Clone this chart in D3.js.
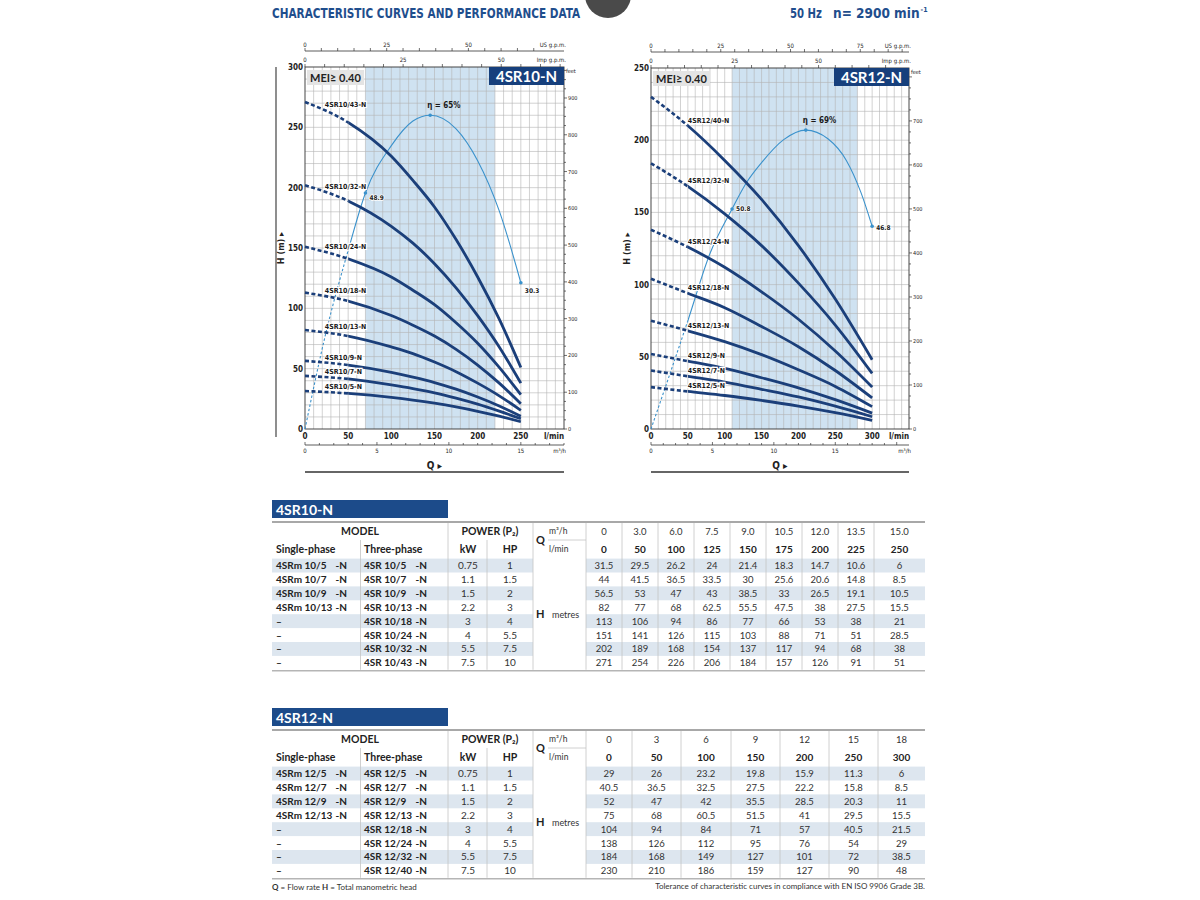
<!DOCTYPE html>
<html>
<head>
<meta charset="utf-8">
<script src="https://cdn.jsdelivr.net/npm/d3@7"></script>
<style>
  body { margin: 0; background: #fff; }
  svg { display: block; }
</style>
</head>
<body>
<div id="chart"></div>
<script>
// ---- 4SR10-N data ----
const q10 = [0, 50, 100, 125, 150, 175, 200, 225, 250];
const m3h10 = ['0', '3.0', '6.0', '7.5', '9.0', '10.5', '12.0', '13.5', '15.0'];
const models10 = ['4SR10/5-N', '4SR10/7-N', '4SR10/9-N', '4SR10/13-N', '4SR10/18-N', '4SR10/24-N', '4SR10/32-N', '4SR10/43-N'];
const single10 = ['4SRm 10/5', '4SRm 10/7', '4SRm 10/9', '4SRm 10/13', '–', '–', '–', '–'];
const three10 = ['4SR 10/5', '4SR 10/7', '4SR 10/9', '4SR 10/13', '4SR 10/18', '4SR 10/24', '4SR 10/32', '4SR 10/43'];
const kw10 = ['0.75', '1.1', '1.5', '2.2', '3', '4', '5.5', '7.5'];
const hp10 = ['1', '1.5', '2', '3', '4', '5.5', '7.5', '10'];
const head10 = [
    [31.5, 29.5, 26.2, 24, 21.4, 18.3, 14.7, 10.6, 6],
    [44, 41.5, 36.5, 33.5, 30, 25.6, 20.6, 14.8, 8.5],
    [56.5, 53, 47, 43, 38.5, 33, 26.5, 19.1, 10.5],
    [82, 77, 68, 62.5, 55.5, 47.5, 38, 27.5, 15.5],
    [113, 106, 94, 86, 77, 66, 53, 38, 21],
    [151, 141, 126, 115, 103, 88, 71, 51, 28.5],
    [202, 189, 168, 154, 137, 117, 94, 68, 38],
    [271, 254, 226, 206, 184, 157, 126, 91, 51]
];
const etaQ10 = [0, 25, 50, 70, 100, 125, 145, 175, 200, 225, 250];
const eta10 = [0, 20.5, 37, 48.9, 58.7, 63.8, 65, 62.2, 55.6, 45.2, 30.3];
const etaMarkQ10 = [70, 145, 250];
const etaMark10 = [48.9, 65, 30.3];
const range10 = [70, 220];

// ---- 4SR12-N data ----
const q12 = [0, 50, 100, 150, 200, 250, 300];
const m3h12 = ['0', '3', '6', '9', '12', '15', '18'];
const models12 = ['4SR12/5-N', '4SR12/7-N', '4SR12/9-N', '4SR12/13-N', '4SR12/18-N', '4SR12/24-N', '4SR12/32-N', '4SR12/40-N'];
const single12 = ['4SRm 12/5', '4SRm 12/7', '4SRm 12/9', '4SRm 12/13', '–', '–', '–', '–'];
const three12 = ['4SR 12/5', '4SR 12/7', '4SR 12/9', '4SR 12/13', '4SR 12/18', '4SR 12/24', '4SR 12/32', '4SR 12/40'];
const kw12 = ['0.75', '1.1', '1.5', '2.2', '3', '4', '5.5', '7.5'];
const hp12 = ['1', '1.5', '2', '3', '4', '5.5', '7.5', '10'];
const head12 = [
    [29, 26, 23.2, 19.8, 15.9, 11.3, 6],
    [40.5, 36.5, 32.5, 27.5, 22.2, 15.8, 8.5],
    [52, 47, 42, 35.5, 28.5, 20.3, 11],
    [75, 68, 60.5, 51.5, 41, 29.5, 15.5],
    [104, 94, 84, 71, 57, 40.5, 21.5],
    [138, 126, 112, 95, 76, 54, 29],
    [184, 168, 149, 127, 101, 72, 38.5],
    [230, 210, 186, 159, 127, 90, 48]
];
const etaQ12 = [0, 50, 80, 110, 130, 150, 180, 210, 240, 265, 285, 300];
const eta12 = [0, 25, 40.5, 50.8, 57, 61.5, 66.8, 69, 67, 62, 54.5, 46.8];
const etaMarkQ12 = [110, 210, 300];
const etaMark12 = [50.8, 69, 46.8];
const range12 = [110, 280];

const NAVY = '#1b3f7a';
const TITLE = '#1f4e8d';
const ETA = '#3b92cc';
const COND = '"Liberation Sans Narrow", "DejaVu Sans Condensed", "Arial Narrow", sans-serif';
const SANS = 'Lato, "Open Sans", sans-serif';

const svg = d3.select('#chart').append('svg')
    .attr('width', 1200)
    .attr('height', 900);
const defs = svg.append('defs');

// ---- page header ----
svg.append('circle')
    .attr('cx', 608).attr('cy', -5).attr('r', 23)
    .attr('fill', '#4a4a4a');

svg.append('text')
    .attr('x', 272).attr('y', 18)
    .attr('font-family', COND).attr('font-weight', 'bold').attr('font-size', 14)
    .attr('fill', TITLE)
    .attr('textLength', 308).attr('lengthAdjust', 'spacingAndGlyphs')
    .text('CHARACTERISTIC CURVES AND PERFORMANCE DATA');
svg.append('text')
    .attr('x', 790).attr('y', 18)
    .attr('font-family', COND).attr('font-weight', 'bold').attr('font-size', 14)
    .attr('fill', TITLE)
    .attr('textLength', 32).attr('lengthAdjust', 'spacingAndGlyphs')
    .text('50 Hz');
const nTxt = svg.append('text')
    .attr('x', 833).attr('y', 18)
    .attr('font-family', COND).attr('font-weight', 'bold').attr('font-size', 13.5)
    .attr('fill', TITLE);
nTxt.append('tspan').text('n= 2900 min');
nTxt.append('tspan').attr('font-size', 7).attr('dx', 1).attr('dy', -6).text('-1');

function txt(g, x, y, s, size, opts = {}) {
    return g.append('text')
        .attr('x', x).attr('y', y)
        .attr('font-family', opts.family || COND)
        .attr('font-size', size)
        .attr('font-weight', opts.weight || 'normal')
        .attr('text-anchor', opts.anchor || 'start')
        .attr('fill', opts.fill || '#222')
        .text(s);
}

function drawChart(cfg) {
    const g = svg.append('g');
    const x = d3.scaleLinear().domain([0, cfg.qMax]).range([cfg.left, cfg.right]);
    const y = d3.scaleLinear().domain([0, cfg.hMax]).range([cfg.bottom, cfg.top]);
    const yEta = d3.scaleLinear().domain([0, cfg.etaMax]).range([cfg.bottom, cfg.top]);
    const yFeet = d3.scaleLinear().domain([0, cfg.hMax * 3.28084]).range([cfg.bottom, cfg.top]);

    // best-efficiency band
    g.append('rect')
        .attr('x', x(cfg.band[0])).attr('y', cfg.top)
        .attr('width', x(cfg.band[1]) - x(cfg.band[0]))
        .attr('height', cfg.bottom - cfg.top)
        .attr('fill', '#cfe2f1');

    // grid every 10
    d3.range(10, cfg.qMax, 10).forEach(v => {
        g.append('line')
            .attr('x1', x(v)).attr('x2', x(v))
            .attr('y1', cfg.top).attr('y2', cfg.bottom)
            .attr('stroke', '#b3b3b3').attr('stroke-width', 0.6);
    });
    d3.range(10, cfg.hMax, 10).forEach(v => {
        g.append('line')
            .attr('x1', cfg.left).attr('x2', cfg.right)
            .attr('y1', y(v)).attr('y2', y(v))
            .attr('stroke', '#b3b3b3').attr('stroke-width', 0.6);
    });

    // frame
    g.append('rect')
        .attr('x', cfg.left).attr('y', cfg.top)
        .attr('width', cfg.right - cfg.left).attr('height', cfg.bottom - cfg.top)
        .attr('fill', 'none').attr('stroke', '#333').attr('stroke-width', 0.9);

    if (cfg.outerLine) {
        g.append('line')
            .attr('x1', cfg.outerLine).attr('x2', cfg.outerLine)
            .attr('y1', cfg.top).attr('y2', cfg.bottom + 8)
            .attr('stroke', '#444').attr('stroke-width', 1.2);
    }

    // left H axis labels
    d3.range(0, cfg.hMax + 1, 50).forEach(v => {
        txt(g, cfg.left - 2, y(v) + 3, v, 8, { weight: 'bold', anchor: 'end' });
    });
    txt(g, 0, 0, 'H  (m)  ▸', 9, { weight: 'bold', anchor: 'middle' })
        .attr('transform', `translate(${cfg.left - 21},${(cfg.top + cfg.bottom) / 2}) rotate(-90)`);

    // right feet axis
    const feetMax = cfg.hMax * 3.28084;
    d3.range(0, feetMax, 25).forEach(v => {
        const major = v % 100 === 0;
        g.append('line')
            .attr('x1', cfg.right).attr('x2', cfg.right + (major ? 3 : 2))
            .attr('y1', yFeet(v)).attr('y2', yFeet(v))
            .attr('stroke', '#333').attr('stroke-width', 0.7);
        if (major && yFeet(v) > cfg.top + 12) {
            txt(g, cfg.right + 4, yFeet(v) + 2, v, 5.5);
        }
    });
    txt(g, cfg.right + 2, cfg.top + 6, 'feet', 5.5);

    // bottom l/min labels
    d3.range(0, cfg.qEnd + 1, 50).forEach(v => {
        txt(g, x(v), cfg.bottom + 10, v, 8, { weight: 'bold', anchor: 'middle' });
    });
    txt(g, x(cfg.qMax) - 10, cfg.bottom + 10, 'l/min', 8, { weight: 'bold', anchor: 'middle' });

    // m3/h axis
    const xm3 = d3.scaleLinear().domain([0, cfg.qMax * 60 / 1000]).range([cfg.left, cfg.right]);
    const axY = cfg.bottom + 16;
    g.append('line')
        .attr('x1', cfg.left).attr('x2', cfg.right)
        .attr('y1', axY).attr('y2', axY)
        .attr('stroke', '#333').attr('stroke-width', 0.8);
    d3.range(0, cfg.m3Ticks + 1, 1).forEach(v => {
        g.append('line')
            .attr('x1', xm3(v)).attr('x2', xm3(v))
            .attr('y1', axY - (v % 5 === 0 ? 3 : 2)).attr('y2', axY)
            .attr('stroke', '#333').attr('stroke-width', 0.7);
    });
    [0, 5, 10, 15].forEach(v => txt(g, xm3(v), axY + 8, v, 6, { anchor: 'middle' }));
    txt(g, cfg.right + 2, axY + 8, 'm³/h', 6, { anchor: 'end' });

    txt(g, (cfg.left + cfg.right) / 2, cfg.bottom + 40, 'Q ▸', 10, { weight: 'bold', anchor: 'middle' });
    g.append('line')
        .attr('x1', cfg.left).attr('x2', cfg.right)
        .attr('y1', cfg.bottom + 43).attr('y2', cfg.bottom + 43)
        .attr('stroke', '#333').attr('stroke-width', 1.3);

    // top gallon axes
    const xus = d3.scaleLinear().domain([0, cfg.qMax / 3.78541]).range([cfg.left, cfg.right]);
    const ximp = d3.scaleLinear().domain([0, cfg.qMax / 4.54609]).range([cfg.left, cfg.right]);
    const usY = cfg.top - 16;
    g.append('line')
        .attr('x1', cfg.left).attr('x2', cfg.right)
        .attr('y1', usY).attr('y2', usY)
        .attr('stroke', '#333').attr('stroke-width', 0.8);
    d3.range(0, cfg.usTicks + 1, 5).forEach(v => {
        g.append('line')
            .attr('x1', xus(v)).attr('x2', xus(v))
            .attr('y1', usY - 3).attr('y2', usY)
            .attr('stroke', '#333').attr('stroke-width', 0.7);
    });
    cfg.usLabels.forEach(v => txt(g, xus(v), usY - 4, v, 6, { anchor: 'middle' }));
    txt(g, cfg.right + 2, usY - 4, 'US g.p.m.', 6, { anchor: 'end' });

    d3.range(0, cfg.impTicks + 1, 5).forEach(v => {
        g.append('line')
            .attr('x1', ximp(v)).attr('x2', ximp(v))
            .attr('y1', cfg.top - 3).attr('y2', cfg.top)
            .attr('stroke', '#333').attr('stroke-width', 0.7);
    });
    [0, 25, 50].forEach(v => txt(g, ximp(v), cfg.top - 5, v, 6, { anchor: 'middle' }));
    txt(g, cfg.right + 2, cfg.top - 5, 'Imp g.p.m.', 6, { anchor: 'end' });

    // clip zones: dashed up to 50 l/min, solid beyond
    defs.append('clipPath').attr('id', cfg.id + '-dash')
        .append('rect')
        .attr('x', cfg.left - 5).attr('y', cfg.top - 20)
        .attr('width', x(50) - cfg.left + 5).attr('height', cfg.bottom - cfg.top + 40);
    defs.append('clipPath').attr('id', cfg.id + '-solid')
        .append('rect')
        .attr('x', x(50)).attr('y', cfg.top - 20)
        .attr('width', cfg.right - x(50)).attr('height', cfg.bottom - cfg.top + 40);

    const line = d3.line()
        .x(d => x(d[0]))
        .y(d => d[2](d[1]))
        .curve(d3.curveMonotoneX);

    // efficiency curve
    const etaPts = cfg.etaQ.map((q, i) => [q, cfg.eta[i], yEta]);
    g.append('path')
        .attr('d', line(etaPts))
        .attr('fill', 'none').attr('stroke', ETA).attr('stroke-width', 1.1)
        .attr('stroke-dasharray', '2.5,2')
        .attr('clip-path', `url(#${cfg.id}-dash)`);
    g.append('path')
        .attr('d', line(etaPts))
        .attr('fill', 'none').attr('stroke', ETA).attr('stroke-width', 1.1)
        .attr('clip-path', `url(#${cfg.id}-solid)`);

    // pump curves
    cfg.heads.forEach(row => {
        const pts = cfg.q.map((q, i) => [q, row[i], y]);
        g.append('path')
            .attr('d', line(pts))
            .attr('fill', 'none').attr('stroke', NAVY).attr('stroke-width', 2.6)
            .attr('stroke-dasharray', '4,2.5')
            .attr('clip-path', `url(#${cfg.id}-dash)`);
        g.append('path')
            .attr('d', line(pts))
            .attr('fill', 'none').attr('stroke', NAVY).attr('stroke-width', 2.8)
            .attr('clip-path', `url(#${cfg.id}-solid)`);
    });

    // curve labels
    cfg.heads.forEach((row, i) => {
        const h = row[0] + (row[1] - row[0]) * cfg.labelQ / 50;
        txt(g, x(cfg.labelX), y(h) - 3, cfg.models[i], 7, { weight: 'bold', fill: '#1a1a1a' })
            .attr('stroke', '#fff').attr('stroke-width', 2.2)
            .attr('paint-order', 'stroke');
    });

    // efficiency marks
    cfg.etaMarkQ.forEach((q, i) => {
        const v = cfg.etaMark[i];
        g.append('circle')
            .attr('cx', x(q)).attr('cy', yEta(v)).attr('r', 1.8)
            .attr('fill', ETA);
        if (i === 1) {
            txt(g, x(q) - 3, yEta(v) - 7, `η = ${v}%`, 8, { weight: 'bold', fill: '#1a1a1a' });
        } else {
            txt(g, x(q) + 4, yEta(v) + cfg.markDy[i], v, 6.5, { weight: 'bold', fill: '#1a1a1a' })
                .attr('stroke', '#fff').attr('stroke-width', 1.5).attr('paint-order', 'stroke');
        }
    });

    // MEI box
    g.append('rect')
        .attr('x', cfg.left + 2).attr('y', cfg.top + 3)
        .attr('width', 57).attr('height', 15)
        .attr('fill', '#e4e4e4');
    txt(g, cfg.left + 5, cfg.top + 14.5, 'MEI≥ 0.40', 11, { weight: 'bold', family: SANS, fill: '#222' });

    // model box
    g.append('rect')
        .attr('x', cfg.right - 75).attr('y', cfg.top)
        .attr('width', 75).attr('height', 18)
        .attr('fill', '#163f7c');
    txt(g, cfg.right - 37.5, cfg.top + 15, cfg.title, 15, { weight: 'bold', family: SANS, anchor: 'middle', fill: '#fff' });
}

drawChart({
    id: 'c10', title: '4SR10-N',
    left: 305, right: 564, top: 67, bottom: 429,
    qMax: 300, hMax: 300, etaMax: 75, qEnd: 250,
    m3Ticks: 18, usTicks: 70, impTicks: 65, usLabels: [0, 25, 50],
    band: range10, q: q10, heads: head10, models: models10,
    labelQ: 20, labelX: 23,
    etaQ: etaQ10, eta: eta10, etaMarkQ: etaMarkQ10, etaMark: etaMark10, markDy: [7, 0, 10],
    outerLine: 276
});
drawChart({
    id: 'c12', title: '4SR12-N',
    left: 651, right: 909, top: 68, bottom: 429,
    qMax: 350, hMax: 250, etaMax: 250 / 3, qEnd: 300,
    m3Ticks: 20, usTicks: 90, impTicks: 70, usLabels: [0, 25, 50, 75],
    band: range12, q: q12, heads: head12, models: models12,
    labelQ: 50, labelX: 50,
    etaQ: etaQ12, eta: eta12, etaMarkQ: etaMarkQ12, etaMark: etaMark12, markDy: [2, 0, 4],
    outerLine: null
});

// ---- tables ----
function drawTable(cfg) {
    const g = svg.append('g');
    const t = cfg.top;
    const L = 272, R = 925;
    const lineTop = t + 22, h1 = t + 31, h2 = t + 49, dTop = t + 58.6, rh = 13.9;
    const edges = cfg.edges;

    g.append('rect')
        .attr('x', L).attr('y', t).attr('width', 176).attr('height', 18)
        .attr('fill', '#1c4b8a');
    txt(g, L + 4, t + 14.5, cfg.title, 14, { weight: 'bold', family: SANS, fill: '#fff' });

    // row shading
    for (let r = 0; r < 8; r += 2) {
        g.append('rect')
            .attr('x', L).attr('y', dTop + r * rh)
            .attr('width', 533 - L).attr('height', rh)
            .attr('fill', '#dde6ef');
        g.append('rect')
            .attr('x', 586).attr('y', dTop + r * rh)
            .attr('width', R - 586).attr('height', rh)
            .attr('fill', '#dde6ef');
    }

    // lines
    g.append('line').attr('x1', L).attr('x2', R).attr('y1', lineTop).attr('y2', lineTop)
        .attr('stroke', '#a8a8a8').attr('stroke-width', 2);
    g.append('line').attr('x1', L).attr('x2', R).attr('y1', dTop + 8 * rh + 1).attr('y2', dTop + 8 * rh + 1)
        .attr('stroke', '#b5b5b5').attr('stroke-width', 1.5);
    const vline = (xx, y1, y2, c) => g.append('line')
        .attr('x1', xx).attr('x2', xx).attr('y1', y1).attr('y2', y2)
        .attr('stroke', c).attr('stroke-width', 0.8);
    vline(360.5, h1 + 9, dTop + 8 * rh, '#c4c4c4');
    vline(448, lineTop + 1, dTop + 8 * rh, '#c4c4c4');
    vline(487, h1 + 9, dTop + 8 * rh, '#c4c4c4');
    vline(533, lineTop + 1, dTop + 8 * rh, '#c4c4c4');
    edges.forEach((e, i) => { if (i < edges.length - 1) vline(e, lineTop + 1, dTop + 8 * rh, '#c4c4c4'); });
    g.append('line').attr('x1', 548).attr('x2', 586).attr('y1', h1 + 9).attr('y2', h1 + 9)
        .attr('stroke', '#c4c4c4').attr('stroke-width', 0.8);

    // header text
    const hs = { family: SANS, weight: 'bold', fill: '#222' };
    txt(g, 360, h1 + 4, 'MODEL', 10.5, { ...hs, anchor: 'middle' });
    txt(g, 490, h1 + 4, 'POWER (P₂)', 10.5, { ...hs, anchor: 'middle' });
    txt(g, 276, h2 + 4, 'Single-phase', 10.5, hs);
    txt(g, 364, h2 + 4, 'Three-phase', 10.5, hs);
    txt(g, 468, h2 + 4, 'kW', 10.5, { ...hs, anchor: 'middle' });
    txt(g, 510, h2 + 4, 'HP', 10.5, { ...hs, anchor: 'middle' });
    txt(g, 536, (h1 + h2) / 2 + 4, 'Q', 11, hs);
    txt(g, 549, h1 + 3, 'm³/h', 8.5, { family: SANS, fill: '#333' });
    txt(g, 549, h2 + 3, 'l/min', 8.5, { family: SANS, fill: '#333' });
    txt(g, 536, dTop + 4 * rh + 4, 'H', 11, hs);
    txt(g, 552, dTop + 4 * rh + 4, 'metres', 9, { family: SANS, fill: '#333' });

    const centers = edges.slice(0, -1).map((e, i) => (e + edges[i + 1]) / 2);
    cfg.m3h.forEach((v, i) => txt(g, centers[i], h1 + 3.5, v, 9.5, { family: SANS, anchor: 'middle', fill: '#333' }));
    cfg.lmin.forEach((v, i) => txt(g, centers[i], h2 + 3.5, v, 10, { ...hs, anchor: 'middle' }));

    // data rows
    for (let r = 0; r < 8; r++) {
        const yy = dTop + r * rh + rh / 2 + 3.5;
        txt(g, 276, yy, cfg.single[r], 10, hs);
        if (cfg.single[r] !== '–') txt(g, 347, yy, '-N', 10, { ...hs, anchor: 'end' });
        txt(g, 364, yy, cfg.three[r], 10, hs);
        txt(g, 427, yy, '-N', 10, { ...hs, anchor: 'end' });
        txt(g, 468, yy, cfg.kw[r], 10, { family: SANS, anchor: 'middle', fill: '#333' });
        txt(g, 510, yy, cfg.hp[r], 10, { family: SANS, anchor: 'middle', fill: '#333' });
        cfg.head[r].forEach((v, i) => txt(g, centers[i], yy, v, 9.5, { family: SANS, anchor: 'middle', fill: '#333' }));
    }
}

drawTable({
    top: 500, title: '4SR10-N',
    edges: [586, 622, 658, 694, 730, 766, 802, 838, 874, 925],
    m3h: m3h10, lmin: q10, single: single10, three: three10, kw: kw10, hp: hp10, head: head10
});
drawTable({
    top: 708, title: '4SR12-N',
    edges: [586, 632, 681, 731, 780, 829, 878, 925],
    m3h: m3h12, lmin: q12, single: single12, three: three12, kw: kw12, hp: hp12, head: head12
});

// footnotes
const foot = svg.append('text')
    .attr('x', 272).attr('y', 890)
    .attr('font-family', SANS).attr('font-size', 8).attr('fill', '#333');
foot.append('tspan').attr('font-weight', 'bold').text('Q');
foot.append('tspan').text(' = Flow rate    ');
foot.append('tspan').attr('font-weight', 'bold').text('H');
foot.append('tspan').text(' = Total manometric head');
txt(svg, 925, 889, 'Tolerance of characteristic curves in compliance with EN ISO 9906 Grade 3B.', 8, { family: SANS, anchor: 'end', fill: '#333' });
</script>
</body>
</html>
